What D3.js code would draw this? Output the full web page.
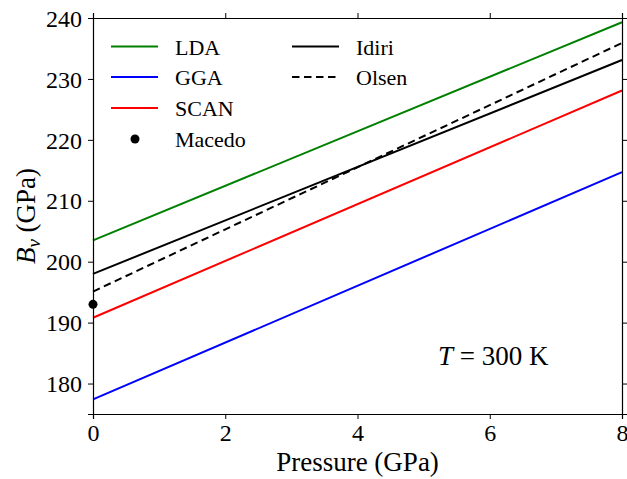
<!DOCTYPE html>
<html>
<head>
<meta charset="utf-8">
<script src="https://cdn.jsdelivr.net/npm/d3@7"></script>
<style>
  html, body { margin: 0; padding: 0; background: #fff; }
  svg { display: block; }
</style>
</head>
<body>
<svg id="chart" width="627" height="479"></svg>
<script>
// Bulk modulus B_v versus pressure at T = 300 K
const pressures = [0, 8];
const ldaValues = [203.5, 239.3];
const ggaValues = [177.4, 214.7];
const scanValues = [190.8, 228.1];
const idiriValues = [198.0, 233.1];
const olsenValues = [195.1, 235.9];
const macedoPoint = [0, 193.0];

const xTicks = [0, 2, 4, 6, 8];
const yTicks = [180, 190, 200, 210, 220, 230, 240];

const FONT = "Liberation Serif";

const seriesList = [
  { name: "LDA", values: ldaValues, color: "#008000", dash: null },
  { name: "GGA", values: ggaValues, color: "#0000ff", dash: null },
  { name: "SCAN", values: scanValues, color: "#ff0000", dash: null },
  { name: "Idiri", values: idiriValues, color: "#000000", dash: null },
  { name: "Olsen", values: olsenValues, color: "#000000", dash: "7.5,4.5" }
];

const margin = { left: 93, right: 5, top: 18, bottom: 65 };
const width = 627, height = 479;
const svg = d3.select("#chart");

const x = d3.scaleLinear().domain([0, 8]).range([margin.left, width - margin.right]);
const y = d3.scaleLinear().domain([175, 240]).range([height - margin.bottom, margin.top]);

// Series lines
const line = d3.line().x(d => x(d[0])).y(d => y(d[1]));
seriesList.forEach(s => {
  svg.append("path")
    .datum(pressures.map((p, i) => [p, s.values[i]]))
    .attr("d", line)
    .attr("fill", "none")
    .attr("stroke", s.color)
    .attr("stroke-width", 2)
    .attr("stroke-dasharray", s.dash);
});

// Macedo data point
svg.append("circle")
  .attr("cx", x(macedoPoint[0]))
  .attr("cy", y(macedoPoint[1]))
  .attr("r", 4.5)
  .attr("fill", "#000");

// Axes with outward ticks on all four sides
const bottomAxis = svg.append("g")
  .attr("transform", `translate(0,${y(175)})`)
  .call(d3.axisBottom(x).tickValues(xTicks).tickSize(5).tickPadding(4).tickFormat(d3.format("d")));
const topAxis = svg.append("g")
  .attr("transform", `translate(0,${y(240)})`)
  .call(d3.axisTop(x).tickValues(xTicks).tickSize(5).tickFormat(""));
const leftAxis = svg.append("g")
  .attr("transform", `translate(${x(0)},0)`)
  .call(d3.axisLeft(y).tickValues(yTicks).tickSize(5).tickPadding(6).tickFormat(d3.format("d")));
const rightAxis = svg.append("g")
  .attr("transform", `translate(${x(8)},0)`)
  .call(d3.axisRight(y).tickValues(yTicks).tickSize(5).tickFormat(""));

[bottomAxis, topAxis, leftAxis, rightAxis].forEach(a => {
  a.attr("font-family", FONT).attr("font-size", 24);
  a.selectAll("path").attr("stroke", "#000").attr("stroke-width", 1.2);
  a.selectAll("line").attr("stroke", "#000").attr("stroke-width", 1);
  a.selectAll("text").attr("fill", "#000");
});
bottomAxis.selectAll("text").attr("dy", "0.75em");
leftAxis.selectAll("text").attr("dy", "0.34em");

// Axis titles
svg.append("text")
  .attr("x", (x(0) + x(8)) / 2)
  .attr("y", 471)
  .attr("text-anchor", "middle")
  .attr("font-family", FONT)
  .attr("font-size", 27)
  .text("Pressure (GPa)");

const yTitle = svg.append("text")
  .attr("transform", `translate(35,${(y(175) + y(240)) / 2}) rotate(-90)`)
  .attr("text-anchor", "middle")
  .attr("font-family", FONT)
  .attr("font-size", 27);
yTitle.append("tspan").attr("font-style", "italic").text("B");
yTitle.append("tspan").attr("font-style", "italic").attr("font-size", 19).attr("dy", 5).text("v");
yTitle.append("tspan").attr("dy", -5).text(" (GPa)");

// Temperature annotation
const tNote = svg.append("text")
  .attr("x", 438)
  .attr("y", 365)
  .attr("font-family", FONT)
  .attr("font-size", 27);
tNote.append("tspan").attr("font-style", "italic").text("T");
tNote.append("tspan").text(" = 300 K");

// Legend
const legendItems = [
  { name: "LDA", color: "#008000", dash: null, col: 0, row: 0 },
  { name: "GGA", color: "#0000ff", dash: null, col: 0, row: 1 },
  { name: "SCAN", color: "#ff0000", dash: null, col: 0, row: 2 },
  { name: "Macedo", color: "#000000", marker: true, col: 0, row: 3 },
  { name: "Idiri", color: "#000000", dash: null, col: 1, row: 0 },
  { name: "Olsen", color: "#000000", dash: "7.5,4.5", col: 1, row: 1 }
];
const colX = [111, 292];
const rowY = [46.5, 77, 108, 139];
const legend = svg.append("g").attr("font-family", FONT).attr("font-size", 22);
legendItems.forEach(it => {
  const lx = colX[it.col], ly = rowY[it.row];
  if (it.marker) {
    legend.append("circle").attr("cx", lx + 24).attr("cy", ly).attr("r", 4.5).attr("fill", it.color);
  } else {
    legend.append("line")
      .attr("x1", lx).attr("x2", lx + 47)
      .attr("y1", ly).attr("y2", ly)
      .attr("stroke", it.color).attr("stroke-width", 2)
      .attr("stroke-dasharray", it.dash);
  }
  legend.append("text")
    .attr("x", lx + 64)
    .attr("y", ly + 8)
    .attr("fill", "#000")
    .text(it.name);
});
</script>
</body>
</html>
